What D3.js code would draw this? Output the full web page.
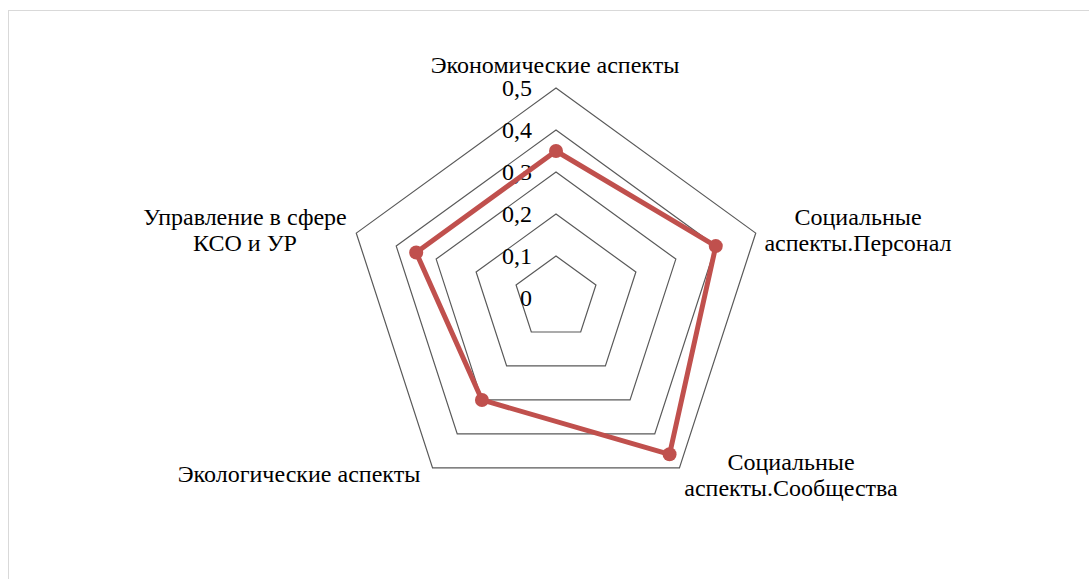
<!DOCTYPE html>
<html>
<head>
<meta charset="utf-8">
<script src="https://cdn.jsdelivr.net/npm/d3@7"></script>
<style>
  body { margin: 0; background: #fff; }
</style>
</head>
<body>
<svg id="chart" width="1089" height="579"></svg>
<script>
// axes, going clockwise from the top
const categories = [
  ["Экономические аспекты"],
  ["Социальные", "аспекты.Персонал"],
  ["Социальные", "аспекты.Сообщества"],
  ["Экологические аспекты"],
  ["Управление в сфере", "КСО и УР"]
];
const values = [0.35, 0.40, 0.46, 0.30, 0.35];
const ticks = [0, 0.1, 0.2, 0.3, 0.4, 0.5];
const tickLabels = ["0", "0,1", "0,2", "0,3", "0,4", "0,5"];

const font = "'Liberation Serif'";
const svg = d3.select("#chart");
const cx = 556, cy = 298;

// outer frame
svg.append("rect")
  .attr("x", 8.5).attr("y", 10.5)
  .attr("width", 1100).attr("height", 600)
  .attr("fill", "none").attr("stroke", "#d9d9d9").attr("stroke-width", 1);

const r = d3.scaleLinear().domain([0, 0.5]).range([0, 210]);
const angle = i => i * 2 * Math.PI / categories.length;
const pt = (i, v) => [cx + r(v) * Math.sin(angle(i)), cy - r(v) * Math.cos(angle(i))];

// grid rings
const ring = d3.line().curve(d3.curveLinearClosed);
svg.append("g").selectAll("path")
  .data(ticks.filter(t => t > 0))
  .join("path")
  .attr("d", t => ring(categories.map((c, i) => pt(i, t))))
  .attr("fill", "none")
  .attr("stroke", "#595959")
  .attr("stroke-width", 1.2);

// tick labels
svg.append("g").selectAll("text")
  .data(ticks)
  .join("text")
  .attr("x", 532)
  .attr("y", t => cy - r(t))
  .attr("dy", "0.35em")
  .attr("text-anchor", "end")
  .style("font-family", font)
  .style("font-size", "24px")
  .text((t, i) => tickLabels[i]);

// series
svg.append("path")
  .attr("d", ring(values.map((v, i) => pt(i, v))))
  .attr("fill", "none")
  .attr("stroke", "#c0504d")
  .attr("stroke-width", 5)
  .attr("stroke-linejoin", "round");

svg.append("g").selectAll("circle")
  .data(values)
  .join("circle")
  .attr("cx", (v, i) => pt(i, v)[0])
  .attr("cy", (v, i) => pt(i, v)[1])
  .attr("r", 7)
  .attr("fill", "#c0504d");

// category labels
const labelPos = [[555, 73], [858, 225], [791, 470], [299, 482], [245, 225]];
categories.forEach((lines, i) => {
  const t = svg.append("text")
    .attr("x", labelPos[i][0])
    .attr("y", labelPos[i][1])
    .attr("text-anchor", "middle")
    .style("font-family", font)
    .style("font-size", "24px");
  lines.forEach((s, k) => {
    t.append("tspan").attr("x", labelPos[i][0]).attr("dy", k === 0 ? 0 : 26).text(s);
  });
});
</script>
</body>
</html>
